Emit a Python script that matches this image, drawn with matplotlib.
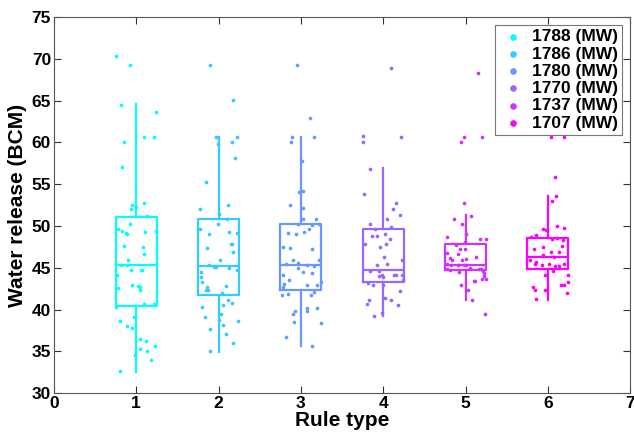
import numpy as np
import matplotlib
matplotlib.use("Agg")
import matplotlib.pyplot as plt

plt.rcParams['font.family'] = ['Liberation Sans', 'DejaVu Sans']
plt.rcParams['font.weight'] = 'bold'

labels = ['1788 (MW)', '1786 (MW)', '1780 (MW)', '1770 (MW)', '1737 (MW)', '1707 (MW)']
rules = [1, 2, 3, 4, 5, 6]

# box statistics
med = [45.4, 45.2, 45.3, 44.7, 45.4, 46.3]
q1 = [40.5, 41.7, 42.3, 43.3, 44.8, 44.9]
q3 = [51.1, 50.9, 50.25, 49.6, 47.9, 48.6]
wlo = [32.6, 34.9, 35.7, 39.2, 41.1, 41.2]
whi = [64.6, 60.7, 60.7, 56.9, 51.3, 53.6]

# jittered samples: horizontal offset from the rule, value
dx1 = [-0.24, -0.08, -0.19, 0.24, -0.15, 0.09, 0.22, -0.17, -0.05, -0.06, 0.10, 0.0, 0.13, -0.07,
       -0.22, -0.17, -0.13, -0.11, 0.11, 0.24, -0.15, 0.08, 0.09, -0.10, -0.19, -0.11, -0.06, 0.06,
       0.07, -0.23, -0.22, -0.05, 0.02, 0.04, 0.05, -0.24, 0.10, 0.22, -0.03, -0.20, -0.11, -0.05,
       0.05, 0.12, 0.23, 0.05, 0.13, -0.02, 0.18, -0.20]
y1 = [70.3, 69.3, 64.5, 63.7, 60.0, 60.6, 60.6, 57.1, 52.5, 52.0, 52.8, 52.3, 51.2, 50.2,
      49.6, 49.4, 49.2, 49.1, 49.3, 49.4, 47.6, 47.5, 46.7, 46.0, 45.3, 45.4, 44.7, 44.8,
      44.8, 44.1, 42.6, 43.0, 42.8, 42.7, 42.3, 40.3, 40.7, 40.7, 39.1, 38.6, 38.0, 37.8,
      36.5, 36.2, 35.7, 35.3, 35.0, 34.6, 34.0, 32.7]

dx2 = [-0.10, 0.17, -0.03, -0.01, 0.23, 0.16, 0.20, -0.15, -0.23, 0.12, 0.0, 0.10, -0.23, -0.01,
       -0.12, 0.13, 0.22, -0.14, 0.16, 0.15, 0.17, 0.02, -0.12, -0.05, -0.03, 0.13, 0.22, -0.21,
       -0.21, -0.20, -0.14, -0.13, -0.15, 0.09, 0.04, 0.12, 0.06, 0.16, -0.20, 0.03, -0.17, 0.01,
       0.05, 0.24, -0.10, 0.09, 0.17, -0.10]
y2 = [69.3, 65.1, 60.7, 59.8, 60.6, 60.0, 58.1, 55.3, 52.1, 52.5, 51.4, 50.9, 49.7, 50.2,
      49.1, 49.3, 49.2, 47.4, 47.9, 47.8, 46.9, 46.0, 45.3, 45.1, 45.1, 45.0, 44.7, 44.5,
      43.9, 43.3, 42.7, 42.4, 42.3, 42.8, 42.0, 41.2, 40.6, 40.8, 40.3, 39.5, 39.1, 38.8,
      38.2, 38.6, 37.7, 37.1, 36.0, 35.0]

dx3 = [-0.05, 0.11, -0.11, -0.12, 0.16, 0.01, -0.02, 0.03, -0.13, 0.03, 0.02, 0.18, -0.03, 0.22,
       0.10, 0.13, -0.16, -0.06, 0.04, -0.22, -0.13, 0.14, -0.09, -0.04, -0.18, 0.22, 0.07, 0.16,
       -0.03, 0.03, 0.14, -0.22, -0.15, -0.20, -0.22, 0.08, 0.20, 0.24, -0.23, -0.16, 0.12, 0.16,
       -0.07, -0.10, 0.07, 0.08, 0.20, -0.08, 0.24, -0.18, 0.14]
y3 = [69.3, 62.9, 60.7, 60.0, 60.6, 57.8, 54.1, 54.2, 52.5, 52.2, 50.8, 50.9, 50.2, 50.2,
      49.6, 50.1, 49.2, 49.1, 49.3, 47.5, 47.4, 47.2, 46.0, 45.6, 45.5, 45.9, 45.4, 45.2,
      45.0, 44.5, 44.4, 44.1, 43.6, 43.1, 42.7, 43.0, 42.9, 43.3, 41.7, 41.9, 41.7, 42.1,
      39.9, 39.5, 40.2, 39.8, 40.2, 38.5, 38.4, 36.7, 35.7]

dx4 = [0.10, -0.25, -0.24, 0.22, -0.16, -0.23, 0.15, 0.12, 0.20, 0.04, -0.16, 0.10, -0.10, 0.02,
       -0.14, -0.07, 0.08, -0.22, 0.03, -0.04, 0.01, 0.23, 0.05, -0.07, -0.16, -0.05, -0.05, 0.0,
       -0.02, 0.13, 0.15, 0.23, 0.24, -0.18, -0.13, 0.0, 0.20, 0.0, 0.02, 0.09, -0.17, -0.20,
       0.18, -0.02, -0.11]
y4 = [68.9, 60.8, 60.0, 60.6, 56.8, 53.8, 52.7, 52.0, 51.3, 50.9, 50.2, 49.9, 49.7, 49.1,
      48.8, 48.8, 48.5, 47.9, 47.9, 47.5, 46.3, 46.0, 45.5, 45.3, 44.6, 44.6, 44.0, 43.9,
      44.2, 44.2, 44.1, 44.1, 43.5, 43.2, 43.0, 43.0, 42.2, 41.4, 41.4, 41.2, 41.1, 40.7,
      40.6, 39.6, 39.3]

dx5 = [0.15, -0.02, -0.05, 0.20, -0.02, -0.14, 0.07, -0.04, 0.01, -0.23, 0.17, 0.25, -0.01, -0.12,
       -0.07, -0.01, -0.23, -0.09, 0.13, -0.19, -0.04, 0.0, -0.16, -0.22, -0.18, -0.09, -0.02, 0.01,
       -0.23, -0.19, 0.06, 0.16, 0.19, 0.21, 0.22, -0.08, 0.10, 0.12, 0.20, 0.23, 0.25, -0.05,
       0.03, 0.08, 0.24]
y5 = [68.3, 60.7, 60.0, 60.6, 52.8, 50.9, 51.2, 50.2, 49.1, 48.7, 48.5, 48.5, 48.1, 47.7,
      47.3, 47.3, 46.8, 46.7, 46.3, 46.2, 46.0, 46.1, 45.9, 45.5, 45.3, 45.3, 45.4, 45.3,
      44.9, 44.8, 45.0, 44.9, 44.9, 44.6, 44.4, 44.5, 43.4, 43.4, 43.7, 44.0, 43.7, 43.0,
      42.3, 41.1, 39.5]

dx6 = [0.04, 0.20, 0.09, 0.10, 0.05, 0.11, 0.19, -0.06, -0.15, -0.20, -0.02, 0.05, 0.11, 0.18,
       -0.17, -0.06, 0.04, 0.13, 0.17, -0.06, 0.08, -0.22, -0.15, -0.16, -0.07, 0.01, 0.19, 0.09,
       0.13, 0.06, -0.04, 0.24, 0.16, 0.20, 0.25, -0.18, -0.16, -0.04, 0.23, -0.14]
y6 = [60.6, 60.7, 55.9, 53.6, 53.0, 50.0, 49.8, 49.7, 48.9, 48.7, 49.5, 48.5, 48.6, 48.3,
      47.3, 47.5, 46.9, 46.9, 47.6, 46.5, 46.3, 45.9, 45.7, 45.5, 45.3, 45.5, 45.5, 45.2,
      45.2, 44.6, 44.2, 44.1, 43.0, 43.0, 43.3, 42.7, 42.3, 42.3, 42.0, 41.3]

offsets = [dx1, dx2, dx3, dx4, dx5, dx6]
values = [y1, y2, y3, y4, y5, y6]

colors = plt.cm.cool(np.linspace(0, 1, 6))

fig = plt.figure(figsize=(6.34, 4.37), dpi=100)
ax = fig.add_axes([0.085, 0.10, 0.909, 0.861])

handles = []
for i in range(6):
	xs = rules[i] + np.array(offsets[i])
	h = ax.scatter(xs, values[i], s=7, color=colors[i], linewidths=0, label=labels[i], zorder=3)
	handles.append(h)
	stats = [dict(med=med[i], q1=q1[i], q3=q3[i], whislo=wlo[i], whishi=whi[i], fliers=[])]
	lp = dict(color=colors[i], linewidth=1.6)
	ax.bxp(stats, positions=[rules[i]], widths=0.5, showcaps=False, showfliers=False,
	       boxprops=lp, whiskerprops=lp, medianprops=lp, manage_ticks=False)

ax.set_xlim(0, 7)
ax.set_ylim(30, 75)
ax.set_xticks(range(0, 8))
ax.set_yticks(range(30, 76, 5))
ax.tick_params(direction='in', length=5, width=0.8, labelsize=12.5, top=True, right=True,
               colors='#333333', labelcolor='black', pad=2)
for s in ax.spines.values():
	s.set_color('#555555')
	s.set_linewidth(0.8)
ax.set_xlabel('Rule type', fontsize=15, fontweight='bold', labelpad=0)
ax.set_ylabel('Water release (BCM)', fontsize=15, fontweight='bold', labelpad=3)

leg = ax.legend(handles=handles, loc='upper right', fontsize=12.5, markerscale=1.8,
                handletextpad=0.3, labelspacing=0.12, borderpad=0.25, fancybox=False,
                borderaxespad=0.45, handlelength=1.6)
leg.get_frame().set_edgecolor('#555555')
leg.get_frame().set_linewidth(0.8)

fig.savefig('out.png', dpi=100)
